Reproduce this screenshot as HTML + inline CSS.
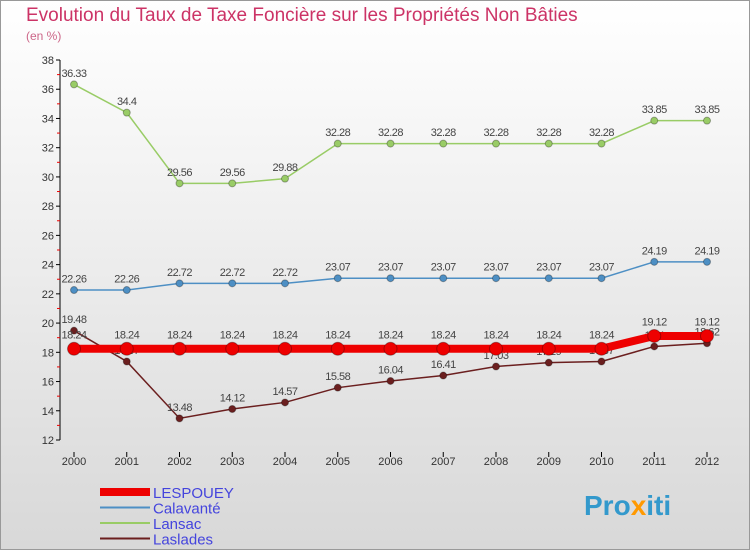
<!DOCTYPE html>
<html><head><meta charset="utf-8"><style>
body{margin:0;width:750px;height:550px;overflow:hidden;font-family:"Liberation Sans",sans-serif}
</style></head><body>
<svg id="c" width="750" height="550" xmlns="http://www.w3.org/2000/svg">
<defs><linearGradient id="bg" x1="0" y1="0" x2="0" y2="1"><stop offset="0" stop-color="#ffffff"/><stop offset="1" stop-color="#d8d8d8"/></linearGradient></defs>
<rect x="0.5" y="0.5" width="749" height="549" fill="url(#bg)" stroke="#999"/>
<text x="26" y="21" font-size="19" fill="#cc3366">Evolution du Taux de Taxe Foncière sur les Propriétés Non Bâties</text>
<text x="26" y="40" font-size="12" fill="#cc6688">(en %)</text>
<g id="axes"></g><g id="series"></g><g id="legend"></g>
<text x="584" y="515" font-size="28" font-weight="bold" fill="#3399cc">Pro<tspan fill="#ff9900">x</tspan>iti</text>
</svg>
<script>
const years=["2000","2001","2002","2003","2004","2005","2006","2007","2008","2009","2010","2011","2012"];
const yTicks=[12,14,16,18,20,22,24,26,28,30,32,34,36,38];
const lespouey=[18.24,18.24,18.24,18.24,18.24,18.24,18.24,18.24,18.24,18.24,18.24,19.12,19.12];
const calavante=[22.26,22.26,22.72,22.72,22.72,23.07,23.07,23.07,23.07,23.07,23.07,24.19,24.19];
const lansac=[36.33,34.4,29.56,29.56,29.88,32.28,32.28,32.28,32.28,32.28,32.28,33.85,33.85];
const laslades=[19.48,17.37,13.48,14.12,14.57,15.58,16.04,16.41,17.03,17.29,17.37,18.4,18.62];
const NS="http://www.w3.org/2000/svg";
const X=i=>74+i*(633/12);
const Y=v=>60+(38-v)*(380/26);
function mk(t,a,p){const e=document.createElementNS(NS,t);for(const k in a)e.setAttribute(k,a[k]);p.appendChild(e);return e;}
const ax=document.getElementById('axes');
const yl=mk('line',{x1:60,y1:60,x2:60,y2:440,stroke:'#000'},ax);


yTicks.forEach(v=>{
 mk('line',{x1:56,y1:Y(v),x2:60,y2:Y(v),stroke:'#000'},ax);
 if(v>12) mk('line',{x1:57,y1:Y(v-1),x2:60,y2:Y(v-1),stroke:'#e00'},ax);
 const t=mk('text',{x:54,y:Y(v)+4,'font-size':11,fill:'#333','text-anchor':'end'},ax);t.textContent=v;
 
 
});
years.forEach((y,i)=>{
 mk('line',{x1:X(i),y1:452,x2:X(i),y2:457,stroke:'#000'},ax);
 const t=mk('text',{x:X(i),y:465,'font-size':11,fill:'#333','text-anchor':'middle'},ax);t.textContent=y;
 
 
});
const sg=document.getElementById('series');
function series(d,col,w,r,name,lab){
 const g=mk('g',{},sg);
 
 
 mk('polyline',{points:d.map((v,i)=>X(i)+','+Y(v)).join(' '),fill:'none',stroke:col,'stroke-width':w},g);
 d.forEach((v,i)=>{
  const c=mk('circle',{cx:X(i),cy:Y(v),r:r,fill:col,stroke:'rgba(0,0,0,0.3)'},g);
  
  
  const t=mk('text',{x:X(i),y:Y(v)-r-4+lab,'font-size':11,fill:'#444','text-anchor':'middle','letter-spacing':'-0.5'},g);
  t.textContent=v;
  
  
 });
}
series(lansac,'#99cc66',1.5,3.5,'lansac-series',0);
series(calavante,'#4d8fc4',1.5,3.5,'calavante-series',0);
series(laslades,'#6b1f1f',1.5,3.5,'laslades-series',0);
series(lespouey,'#ee0000',8,6.5,'lespouey-series',0);
const lg=document.getElementById('legend');
const items=[['LESPOUEY','#ee0000',8],['Calavanté','#4d8fc4',2],['Lansac','#99cc66',2],['Laslades','#6b1f1f',2]];
items.forEach((it,i)=>{
 const y=492+i*15.5;
 const g=mk('g',{},lg);
 
 
 mk('line',{x1:100,y1:y,x2:150,y2:y,stroke:it[1],'stroke-width':it[2]},g);
 const t=mk('text',{x:153,y:y+6,'font-size':15,fill:'#4444dd'},g);t.textContent=it[0];
});
</script>
</body></html>
